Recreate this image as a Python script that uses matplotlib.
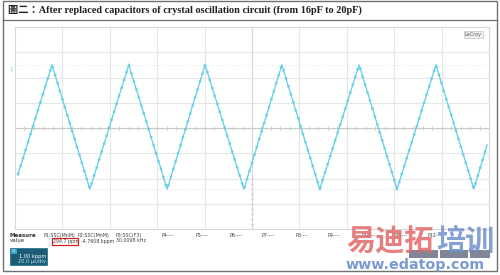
import matplotlib
matplotlib.use("Agg")
import matplotlib.pyplot as plt
from matplotlib.patches import Rectangle
import numpy as np

# trace vertices (x in divisions 0..10, y in divisions -4..4)
trace_x = [0.06, 0.78, 1.58, 2.40, 3.21, 4.01, 4.83, 5.63, 6.43, 7.26, 8.06, 8.88, 9.68, 9.96]
trace_y = [-1.86, 2.50, -2.42, 2.50, -2.42, 2.50, -2.42, 2.50, -2.42, 2.50, -2.42, 2.50, -2.42, -0.67]

title = "圖二：After replaced capacitors of crystal oscillation circuit (from 16pF to 20pF)"
meas_names = ["P1:SSC(MnM)", "P2:SSC(MnM)", "P3:SSC(F3)", "P4----", "P5----", "P6----",
              "P7----", "P8----", "P9----", "P10---", "P11---", "P12---"]
meas_values = ["294.7 ppm", "-4.7608 kppm", "30.0098 kHz"]
badge_lines = ["1.00 kppm", "20.0 µs/div"]

W, H = 500, 275
trace_color = "#62cde6"


def fx(x):
    return x / W


def fy(y):
    return 1 - y / H


fig = plt.figure(figsize=(5, 2.75), dpi=100)
fig.patch.set_facecolor("white")

# outer frame and title separator
bg = fig.add_axes([0, 0, 1, 1])
bg.set_xlim(0, W)
bg.set_ylim(H, 0)
bg.axis("off")
bg.add_patch(Rectangle((3, 1), 494, 270, fill=False, ec="#707070", lw=1.0))
bg.plot([3, 497], [19.5, 19.5], color="#707070", lw=0.9)

fig.text(fx(8), fy(10), title, fontsize=7.35, fontweight="bold",
         family=["Liberation Serif", "Noto Sans CJK TC"], va="center", ha="left", color="#202020")

# scope grid area
ax = fig.add_axes([fx(15), fy(229), (489 - 15) / W, (229 - 27) / H])
ax.set_xlim(0, 10)
ax.set_ylim(-4, 4)
ax.set_xticks([])
ax.set_yticks([])
for s in ax.spines.values():
    s.set_color("#d8d8d8")
    s.set_linewidth(0.8)
for gx in range(1, 10):
    ax.axvline(gx, color="#e6e6e6", lw=0.8, zorder=0)
for gy in range(-3, 4):
    ax.axhline(gy, color="#e6e6e6", lw=0.8, zorder=0)
ax.axhline(0, color="#c8c8c8", lw=0.8, zorder=0)
ax.axvline(5, color="#d8d8d8", lw=0.8, zorder=0)
# minor tick marks on the centre lines
for t in np.arange(0, 10.01, 0.2):
    ax.plot([t, t], [-0.06, 0.06], color="#c8c8c8", lw=0.5, zorder=0)
for t in np.arange(-4, -1.99, 0.2):
    ax.plot([4.97, 5.03], [t, t], color="#e8b8b8", lw=0.5, zorder=0)

# faint level markers at trace peak and trough
ax.axhline(max(trace_y), color="#d4d4d4", lw=0.6, ls=(0, (1, 3)), zorder=0)
ax.axhline(min(trace_y), color="#d4d4d4", lw=0.6, ls=(0, (1, 3)), zorder=0)

ax.plot(trace_x, trace_y, color=trace_color, lw=0.9, zorder=3)
ax.plot(trace_x, trace_y, color=trace_color, lw=2.0, ls=(0, (0.8, 2.2)), zorder=3, alpha=0.75)

ax.text(0.985, 0.975, "LeCroy", transform=ax.transAxes, fontsize=3.6, ha="right", va="top",
        color="#606060", bbox=dict(boxstyle="square,pad=0.15", fc="#eeeeee", ec="#b8b8b8", lw=0.4))
fig.text(fx(11), fy(69), "1", fontsize=4, color=trace_color, ha="center", va="center")

# measurement table
fig.text(fx(10), fy(235.5), "Measure", fontsize=4, fontweight="bold", color="#303030", va="center")
fig.text(fx(10), fy(241), "value", fontsize=4, color="#303030", va="center")
col_x = [44, 77, 116, 162, 196, 230, 262, 295, 328, 361, 394, 427]
for name, cx in zip(meas_names, col_x):
    fig.text(fx(cx), fy(235.5), name, fontsize=3.4, color="#404040", va="center")
val_x = [53, 81, 116]
for v, cx in zip(meas_values, val_x):
    fig.text(fx(cx), fy(241), v, fontsize=3.4, color="#404040", va="center")
bg.add_patch(Rectangle((51.5, 237.5), 26, 7, fill=False, ec="#d02020", lw=0.9))

# channel badge
bg.add_patch(Rectangle((10, 248), 37, 17, fc="#1d5c74", ec="#2a7890", lw=0.6))
bg.add_patch(Rectangle((11, 249), 6, 4.5, fc="#3aa0c8", ec="none"))
fig.text(fx(14), fy(251.3), "C1", fontsize=2.6, color="white", ha="center", va="center")
fig.text(fx(46), fy(256.5), badge_lines[0], fontsize=3.6, color="white", ha="right", va="center")
fig.text(fx(46), fy(261.5), badge_lines[1], fontsize=3.6, color="#a8e0f0", ha="right", va="center")

# right side badges (mostly covered)
for bx, bw in [(409, 29), (440, 28), (470, 20)]:
    bg.add_patch(Rectangle((bx, 250), bw, 8, fc="#2c3652", ec="none", alpha=0.6))

# watermark
fig.text(fx(346), fy(241), "易迪拓", fontsize=21, fontweight="bold", color="#e26a6a", alpha=0.85,
         family=["Noto Sans CJK SC"], va="center")
fig.text(fx(436), fy(241), "培训", fontsize=21, fontweight="bold", color="#7090cc", alpha=0.85,
         family=["Noto Sans CJK SC"], va="center")
fig.text(fx(346), fy(265), "www.edatop.com", fontsize=10.3, fontweight="bold", color="#6488c8",
         alpha=0.85, va="center")

fig.savefig("out.png", dpi=100)
